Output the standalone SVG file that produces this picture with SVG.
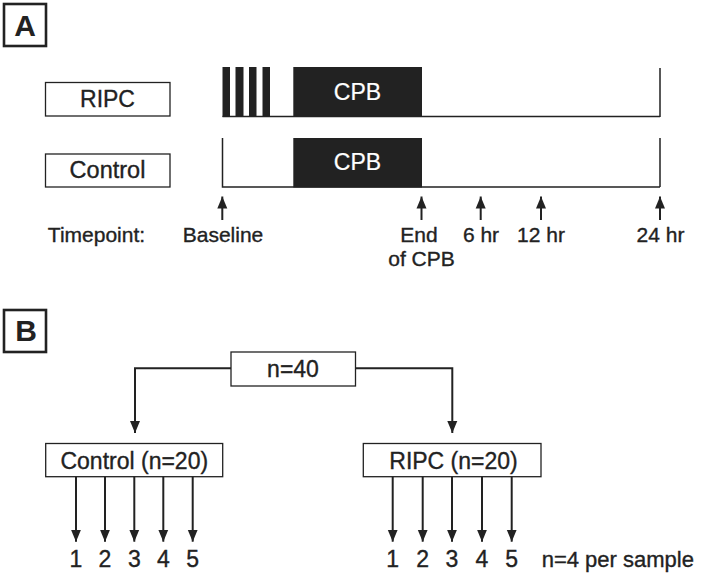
<svg xmlns="http://www.w3.org/2000/svg" width="714" height="575" viewBox="0 0 714 575">
<style>
text{font-family:"Liberation Sans",Arial,sans-serif;fill:#222;stroke:#222;stroke-width:0.35}
.panel{fill:#fff;stroke:#222;stroke-width:2.6}
.plabel{font-size:30px;font-weight:bold;text-anchor:middle;stroke-width:0}
.box{fill:#fff;stroke:#222;stroke-width:1.3}
.lbl{font-size:23px;text-anchor:middle}
.tp{font-size:21px;text-anchor:middle}
.blk{fill:#222}
.tl{fill:none;stroke:#222;stroke-width:1.5}
.cpb{font-size:23px;text-anchor:middle;fill:#fff;stroke:#fff;stroke-width:0.2}
.conn{fill:none;stroke:#222;stroke-width:2}
.num{font-size:23px;text-anchor:middle}
</style>
<defs>
<marker id="ah" viewBox="0 0 12 10" refX="12" refY="5" markerWidth="12" markerHeight="11" markerUnits="userSpaceOnUse" orient="auto">
<path d="M0,0 L12,5 L0,10 Z" fill="#222"/>
</marker>
</defs>

<g id="panelA-label"><rect class="panel" x="4" y="4" width="42" height="42"/><text class="plabel" x="25" y="35.5">A</text></g>

<g id="ripc-label"><rect class="box" x="45.5" y="82.5" width="124.5" height="33.5"/><text class="lbl" x="107.5" y="106.5">RIPC</text></g>
<g id="control-label"><rect class="box" x="45.5" y="154" width="124.5" height="33"/><text class="lbl" x="107.5" y="177.5" style="font-size:23.5px">Control</text></g>

<g id="ripc-timeline">
<rect class="blk" x="222.5" y="67" width="7.5" height="50"/>
<rect class="blk" x="235.5" y="67" width="8" height="50"/>
<rect class="blk" x="249" y="67" width="7.5" height="50"/>
<rect class="blk" x="262.5" y="67" width="7.5" height="50"/>
<rect class="blk" x="293.3" y="67" width="128.7" height="50"/>
<path class="tl" d="M222.5,116.5 H660 M660,68 V117"/>
<text class="cpb" x="357.5" y="99.5">CPB</text>
</g>

<g id="control-timeline">
<rect class="blk" x="293.3" y="138" width="128.7" height="49.5"/>
<path class="tl" d="M222.5,138 V187 H660 M660,138 V187"/>
<text class="cpb" x="357.5" y="170">CPB</text>
</g>

<g id="timepoints">
<text class="tp" x="96.5" y="241.5">Timepoint:</text>
<text class="tp" x="223" y="241.5">Baseline</text>
<text class="tp" x="419" y="241.5">End</text>
<text class="tp" x="421.5" y="265.5">of CPB</text>
<text class="tp" x="481" y="241.5">6 hr</text>
<text class="tp" x="541" y="241.5">12 hr</text>
<text class="tp" x="660.5" y="241.5">24 hr</text>
</g>

<g id="panelB-label"><rect class="panel" x="4" y="310" width="42" height="42"/><text class="plabel" x="26" y="340.5">B</text></g>

<g id="n40"><rect class="box" x="231" y="352" width="124.5" height="34"/><text class="lbl" x="293" y="377">n=40</text></g>
<g id="control-group"><rect class="box" x="45.7" y="443.5" width="177" height="33.2"/><text class="lbl" x="134.3" y="468.5">Control (n=20)</text></g>
<g id="ripc-group"><rect class="box" x="363.3" y="443.5" width="177.7" height="33.2"/><text class="lbl" x="453.5" y="468.5">RIPC (n=20)</text></g>

<g id="samples">
<text class="num" x="76" y="567">1</text>
<text class="num" x="105" y="567">2</text>
<text class="num" x="134.3" y="567">3</text>
<text class="num" x="163.3" y="567">4</text>
<text class="num" x="192.7" y="567">5</text>
<text class="num" x="392.7" y="567">1</text>
<text class="num" x="422.7" y="567">2</text>
<text class="num" x="452" y="567">3</text>
<text class="num" x="482" y="567">4</text>
<text class="num" x="511.7" y="567">5</text>
<text x="541.7" y="567" style="font-size:22px">n=4 per sample</text>
</g>

<g id="connectors">
<path class="conn" d="M222.3,220 V196.5" marker-end="url(#ah)"/>
<path class="conn" d="M421.5,220 V196.5" marker-end="url(#ah)"/>
<path class="conn" d="M480.7,220 V196.5" marker-end="url(#ah)"/>
<path class="conn" d="M541,220 V196.5" marker-end="url(#ah)"/>
<path class="conn" d="M660,220 V196.5" marker-end="url(#ah)"/>
<path class="conn" d="M231,368.3 H135 V433" marker-end="url(#ah)"/>
<path class="conn" d="M355.5,368.3 H452.3 V433" marker-end="url(#ah)"/>
<path class="conn" d="M76,476.7 V541.7" marker-end="url(#ah)"/>
<path class="conn" d="M105,476.7 V541.7" marker-end="url(#ah)"/>
<path class="conn" d="M134.3,476.7 V541.7" marker-end="url(#ah)"/>
<path class="conn" d="M163.3,476.7 V541.7" marker-end="url(#ah)"/>
<path class="conn" d="M192.7,476.7 V541.7" marker-end="url(#ah)"/>
<path class="conn" d="M392.7,476.7 V541.7" marker-end="url(#ah)"/>
<path class="conn" d="M422.7,476.7 V541.7" marker-end="url(#ah)"/>
<path class="conn" d="M452,476.7 V541.7" marker-end="url(#ah)"/>
<path class="conn" d="M482,476.7 V541.7" marker-end="url(#ah)"/>
<path class="conn" d="M511.7,476.7 V541.7" marker-end="url(#ah)"/>
</g>
</svg>
